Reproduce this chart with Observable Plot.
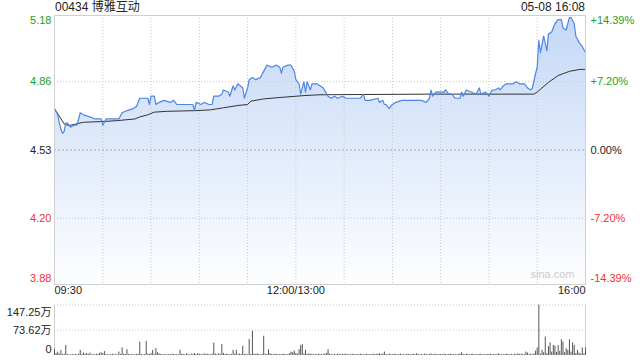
<!DOCTYPE html>
<html>
<head>
<meta charset="utf-8">
<script src="https://cdn.jsdelivr.net/npm/d3@7"></script>
<script src="https://cdn.jsdelivr.net/npm/@observablehq/plot@0.6"></script>
<style>
  html, body { margin: 0; padding: 0; background: #fff; }
  #wrap { position: relative; width: 640px; height: 360px; overflow: hidden;
          font-family: "Liberation Sans", Arial, "Noto Sans CJK SC", sans-serif; color: #222; }
  #wrap svg { position: absolute; left: 0; }
  .hdr { position: absolute; top: 0; font-size: 12px; line-height: 14px; }
</style>
</head>
<body>
<div id="wrap">
  <div class="hdr" id="title" style="left:55px"></div>
  <div class="hdr" id="stamp" style="right:55px"></div>
</div>
<script>
const stockTitle = "00434 博雅互动";
const stampText = "05-08 16:08";
const prevClose = 4.53;

const priceTimes = ["09:30","09:32","09:33","09:34","09:35","09:36","09:37","09:38","09:40","09:42","09:44","09:46","09:48","09:52","09:55","09:59",
"10:00","10:02","10:10","10:12","10:15","10:19","10:21","10:23","10:28","10:29","10:30","10:32","10:33","10:35","10:38","10:42","10:44","10:46","10:50","10:56","10:57","10:58",
"11:01","11:03","11:06","11:08","11:09","11:12","11:14","11:15","11:18","11:19","11:21","11:22","11:24","11:27","11:28","11:30","11:31","11:33","11:35","11:38","11:40","11:42","11:45","11:48","11:50","11:51","11:52","11:55","11:57","11:59",
"13:00","13:02","13:03","13:05","13:06","13:07","13:09","13:10","13:13","13:15","13:17","13:20","13:22","13:24","13:26","13:29","13:31","13:35","13:40","13:42","13:43","13:46","13:51","13:52","13:54","13:55","13:56","13:58",
"14:00","14:02","14:06","14:10","14:14","14:18","14:21","14:23","14:24","14:25","14:27","14:32","14:33","14:35","14:37","14:39","14:42","14:43","14:44","14:46","14:49","14:52","14:54","14:55","14:58",
"15:00","15:02","15:04","15:06","15:07","15:09","15:11","15:15","15:17","15:19","15:21","15:22","15:24","15:26","15:27","15:29","15:30","15:31","15:32","15:33","15:34","15:36","15:37","15:39","15:41","15:43","15:45","15:46","15:48","15:50","15:51","15:53","15:54","15:56","15:58","16:00"];
const prices = [4.73,4.70,4.66,4.63,4.61,4.62,4.66,4.66,4.64,4.65,4.65,4.71,4.70,4.69,4.68,4.68,
4.65,4.68,4.68,4.71,4.72,4.73,4.74,4.78,4.78,4.75,4.79,4.79,4.75,4.76,4.77,4.76,4.77,4.75,4.75,4.75,4.72,4.76,
4.75,4.76,4.75,4.75,4.79,4.79,4.80,4.82,4.81,4.79,4.84,4.82,4.85,4.83,4.78,4.83,4.87,4.88,4.87,4.88,4.91,4.94,4.93,4.94,4.93,4.90,4.93,4.94,4.94,4.91,
4.87,4.85,4.80,4.86,4.81,4.86,4.82,4.85,4.85,4.84,4.83,4.79,4.78,4.79,4.78,4.79,4.78,4.78,4.78,4.80,4.77,4.77,4.78,4.76,4.77,4.75,4.75,4.73,
4.75,4.76,4.77,4.77,4.77,4.77,4.76,4.78,4.82,4.79,4.81,4.81,4.82,4.80,4.80,4.78,4.78,4.81,4.79,4.82,4.81,4.80,4.83,4.80,4.81,
4.79,4.82,4.82,4.83,4.82,4.84,4.85,4.85,4.86,4.85,4.85,4.85,4.83,4.82,4.83,4.90,4.93,5.06,5.00,5.04,5.08,5.01,5.09,5.10,5.14,5.16,5.16,5.12,5.11,5.17,5.17,5.14,5.08,5.05,5.03,5.00];

const avgTimes = ["09:30","09:36","09:39","09:48","10:01","10:09","10:20","10:23","10:28","10:32","10:40","10:57","11:07","11:15","11:24","11:30","11:32","11:40","11:52","13:05","13:15","14:24","15:28","15:30","15:37","15:43","15:50","15:56","16:00"];
const avgPrices = [4.73,4.656,4.648,4.664,4.668,4.672,4.68,4.69,4.70,4.713,4.717,4.72,4.724,4.734,4.745,4.75,4.766,4.777,4.785,4.793,4.797,4.80,4.80,4.81,4.857,4.89,4.91,4.919,4.92];

// volume per minute (万), from 09:30 (index 0) to 16:00 (index 330)
const volumes = [
18,6,10,4,15,3,4,29,3,2,
2,3,2,3,2,4,15,3,7,4,
6,3,7,2,3,2,4,3,6,8,
5,12,3,2,2,3,4,2,3,2,
10,3,22,4,3,17,3,2,3,2,
2,3,4,39,3,2,3,41,4,3,
6,15,3,20,8,5,3,2,3,2,
2,3,2,4,3,2,3,2,15,4,
3,2,5,3,2,4,3,6,3,5,
4,3,2,5,3,4,3,2,4,36,
4,3,5,3,32,6,3,4,3,2,
3,15,4,15,3,4,3,27,3,4,
2,47,3,71,4,3,5,3,2,3,
56,4,3,17,5,3,2,4,3,2,
3,2,4,3,2,3,5,10,8,13,
6,4,17,29,32,4,15,3,5,3,
4,2,3,2,4,3,2,3,4,6,
17,4,3,2,3,2,4,3,2,3,
3,4,2,3,2,4,3,2,3,2,
4,3,2,3,4,2,3,2,4,3,
3,4,5,3,4,10,3,2,4,3,
2,4,3,2,3,4,2,3,2,4,
3,2,3,4,2,5,3,2,3,2,
4,3,2,3,5,2,3,4,2,3,
3,2,4,3,2,3,4,3,2,3,
2,3,4,8,3,2,4,3,2,3,
4,2,3,2,3,4,2,3,2,3,
3,4,2,3,2,3,5,2,3,2,
3,4,3,2,3,2,4,3,5,3,
4,3,3,10,7,3,4,2,5,13,
22,147,4,15,8,54,6,26,37,10,
29,27,9,29,12,46,39,8,20,15,
46,10,37,29,6,15,7,4,22,5,22];

const yTicks = [5.18, 4.86, 4.53, 4.20, 3.88];
const yTickLabels = ["5.18", "4.86", "4.53", "4.20", "3.88"];
const pctTickLabels = ["+14.39%", "+7.20%", "0.00%", "-7.20%", "-14.39%"];
const gridTimes = ["10:00","10:30","11:00","11:30","12:00","13:30","14:00","14:30","15:00","15:30"];
const timeTickPos = ["09:30", "12:00", "16:00"];
const timeTickLabels = ["09:30", "12:00/13:00", "16:00"];
const volTicks = [147.25, 73.62, 0];
const volTickLabels = ["147.25万", "73.62万", "0"];
const watermark = "sina.com";

function idx(t) {
  const [h, m] = t.split(":").map(Number);
  const v = h * 60 + m;
  return v <= 720 ? v - 570 : v - 780 + 150;
}

const priceData = priceTimes.map((t, i) => ({x: idx(t), p: prices[i]}));
const avgData = avgTimes.map((t, i) => ({x: idx(t), p: avgPrices[i]}));
const volData = volumes.map((v, i) => ({x: i, v}));

const GREEN = "#1e9e1e", RED = "#ee3333", DARK = "#222";
const colorOf = v => v > prevClose + 1e-9 ? GREEN : (v < prevClose - 1e-9 ? RED : DARK);
const FONT = '"Liberation Sans", Arial, "Noto Sans CJK SC", sans-serif';

document.getElementById("title").textContent = stockTitle;
document.getElementById("stamp").textContent = stampText;

const gradientDefs = () => {
  const defs = d3.create("svg:defs");
  const g = defs.append("linearGradient").attr("id", "areaGrad")
    .attr("x1", 0).attr("y1", 0).attr("x2", 0).attr("y2", 1);
  g.append("stop").attr("offset", "0%").attr("stop-color", "#c5d8f7");
  g.append("stop").attr("offset", "100%").attr("stop-color", "#fdfeff");
  return defs.node();
};

function sideLabels(values, labels, side, colorFn) {
  const n = values.length;
  return values.map((v, i) => Plot.text([v], {
    y: d => d,
    text: () => labels[i],
    frameAnchor: side,
    dx: side === "left" ? -3 : 5,
    dy: i === 0 ? 5 : (i === n - 1 ? -6 : 0),
    textAnchor: side === "left" ? "end" : "start",
    fill: colorFn(v),
    fontSize: 11
  }));
}

const timeMarks = timeTickPos.map((t, i) => Plot.text([t], {
  x: d => idx(d), text: () => timeTickLabels[i],
  frameAnchor: "bottom", dy: 9,
  textAnchor: i === 0 ? "start" : (i === timeTickPos.length - 1 ? "end" : "middle"),
  fill: DARK, fontSize: 11
}));

const pricePlot = Plot.plot({
  width: 640, height: 300,
  marginLeft: 54, marginRight: 55, marginTop: 15, marginBottom: 16,
  x: {domain: [0, 330], axis: null},
  y: {domain: [3.88, 5.18], axis: null},
  style: {fontFamily: FONT, fontSize: "11px", background: "transparent", overflow: "visible"},
  marks: [
    gradientDefs,
    Plot.areaY(priceData, {x: "x", y1: 3.88, y2: "p", fill: "url(#areaGrad)"}),
    Plot.ruleX(gridTimes.map(idx), {stroke: "#c8c8c8", strokeDasharray: "1,2"}),
    Plot.ruleY([4.86, 4.20], {stroke: "#c8c8c8", strokeDasharray: "1,2"}),
    Plot.ruleY([prevClose], {stroke: "#aaa", strokeDasharray: "2,2"}),
    Plot.lineY(avgData, {x: "x", y: "p", stroke: "#333", strokeWidth: 1}),
    Plot.lineY(priceData, {x: "x", y: "p", stroke: "#4f87e6", strokeWidth: 1.2}),
    Plot.frame({stroke: "#cfcfcf"}),
    ...sideLabels(yTicks, yTickLabels, "left", colorOf),
    ...sideLabels(yTicks, pctTickLabels, "right", colorOf),
    Plot.text([watermark], {frameAnchor: "bottom-right", dx: -11, dy: -7, textAnchor: "end", fill: "#cccccc", fontSize: 11}),
    ...timeMarks
  ]
});
pricePlot.style.top = "0px";

const volPlot = Plot.plot({
  width: 640, height: 60,
  marginLeft: 54, marginRight: 55, marginTop: 4.5, marginBottom: 5,
  x: {domain: [0, 330], axis: null},
  y: {domain: [0, 147.25], axis: null},
  style: {fontFamily: FONT, fontSize: "11px", background: "transparent", overflow: "visible"},
  marks: [
    Plot.ruleY(volTicks.filter(v => v > 0), {stroke: "#c8c8c8", strokeDasharray: "1,2"}),
    Plot.ruleX([0, 330], {y1: 0, y2: 147.25, stroke: "#cfcfcf"}),
    Plot.ruleX(volData, {x: "x", y1: 0, y2: "v", stroke: "#555", strokeWidth: 1}),
    ...volTicks.map((v, i) => Plot.text([v], {
      y: d => d, text: () => volTickLabels[i], frameAnchor: "left", dx: -3,
      dy: i === 0 ? 7 : (i === volTicks.length - 1 ? -6.5 : 0.5),
      textAnchor: "end", fill: DARK, fontSize: 11
    }))
  ]
});
volPlot.style.top = "300px";

const wrap = document.getElementById("wrap");
wrap.insertBefore(pricePlot, wrap.firstChild);
wrap.appendChild(volPlot);
</script>
</body>
</html>
